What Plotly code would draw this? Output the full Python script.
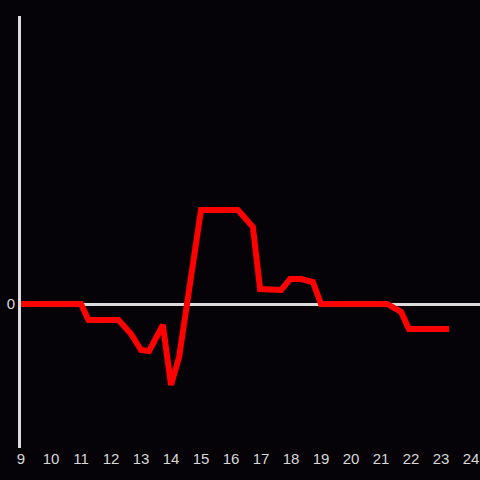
import plotly.graph_objects as go

HOURS = [9.0, 11.0, 11.25, 12.25, 12.67, 13.0, 13.27, 13.73, 14.0, 14.27,
         15.0, 16.23, 16.73, 16.97, 17.67, 17.97, 18.33, 18.73, 19.0,
         21.2, 21.67, 21.93, 23.27]
VALUES = [0, 0, -16, -16, -30, -46, -47, -21, -81, -53,
          94, 94, 77, 15, 14, 25, 25, 22, 0,
          0, -8, -25, -25]
X_TICKS = list(range(9, 25))

BG = "#050308"
AXIS = "#dcdcdc"

fig = go.Figure(
    go.Scatter(
        x=HOURS,
        y=VALUES,
        mode="lines",
        line={"color": "#ff0000", "width": 6},
        hoverinfo="skip",
    )
)

fig.update_layout(
    width=480,
    height=480,
    paper_bgcolor=BG,
    plot_bgcolor=BG,
    showlegend=False,
    margin={"l": 21, "r": 0, "t": 16, "b": 32},
    font={"family": "Liberation Sans, Arial, sans-serif", "size": 15, "color": "#d8d8d8"},
)
fig.update_xaxes(
    range=[9, 24.3],
    tickvals=X_TICKS,
    ticktext=[str(t) for t in X_TICKS],
    showgrid=False,
    zeroline=False,
    showline=False,
    ticks="",
)
fig.update_yaxes(
    range=[-144, 288],
    tickvals=[0],
    showgrid=False,
    zeroline=True,
    zerolinecolor=AXIS,
    zerolinewidth=3,
    showline=True,
    linecolor=AXIS,
    linewidth=3,
    ticks="",
)

# drop the browser's default body margin so the figure fills the window
fig.write_html(
    "out.html",
    config={"displayModeBar": False},
    post_script="document.body.style.margin='0';document.body.style.background='%s';" % BG,
)
